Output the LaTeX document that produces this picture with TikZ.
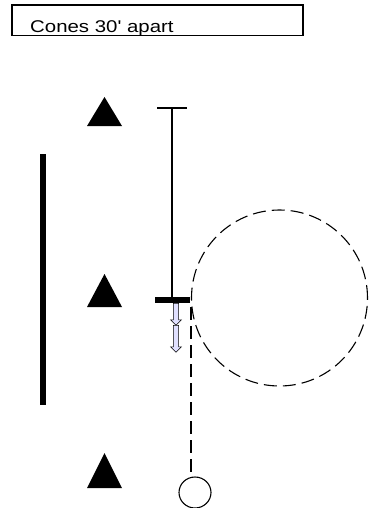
\documentclass[tikz,border=0pt]{standalone}
\usepackage{fontspec}
\setmainfont{Liberation Sans}
\usetikzlibrary{positioning,shapes.arrows,shapes.geometric,arrows.meta}

\tikzset{
  dashline/.style={dashed,dash pattern=on 13pt off 6pt,line width=1.1pt},
  movearrow/.style={single arrow,draw,fill=blue!12,line width=0.6pt,rotate=-90,
    minimum width=11pt,inner sep=2.2pt,single arrow head extend=2.8pt},
}

\begin{document}
\begin{tikzpicture}[x=1pt,y=-1pt]
\useasboundingbox (0,0) rectangle (373,508);
% caption box
\begin{scope}
\clip (12,5) rectangle (303,35.5);
\node[anchor=base west,inner sep=0pt,xscale=1.2,font=\fontsize{17}{19}\selectfont] (note) at (30,33) {Cones 30\textquotesingle\ apart};
\end{scope}
\draw[line width=1.3pt] (12,5) rectangle (303,35.5);
% cones
\foreach \ya/\yb in {97/126,274/307,453/488}
  \fill (87,\yb) -- (104.5,\ya) -- (122,\yb) -- cycle;
% sideline
\draw[line width=6pt] (43,154) -- (43,405);
% lane marker
\coordinate (ttop) at (172,108);
\coordinate (tbar) at (172,300);
\draw[line width=1.1pt] (ttop) -- (tbar);
\draw[line width=1.1pt] ([xshift=-15pt]ttop) -- ([xshift=15pt]ttop);
\draw[line width=6pt] ([xshift=-17pt]tbar) -- ([xshift=18pt]tbar);
\node[movearrow,minimum height=22pt,anchor=tail] (step1) at (176,303) {};
\node[movearrow,minimum height=27pt,anchor=tail] (step2) at (176,325) {};
% circle and path to ball
\node[draw,circle,dashline,minimum size=176pt,inner sep=0pt] (spin) at (279.5,298) {};
\node[draw,ellipse,line width=1.1pt,minimum width=32pt,minimum height=31pt,inner sep=0pt] (ball) at (195,492.5) {};
\draw[dashline] (spin.west |- 0,307) -- (ball.north -| spin.west);
\end{tikzpicture}
\end{document}
